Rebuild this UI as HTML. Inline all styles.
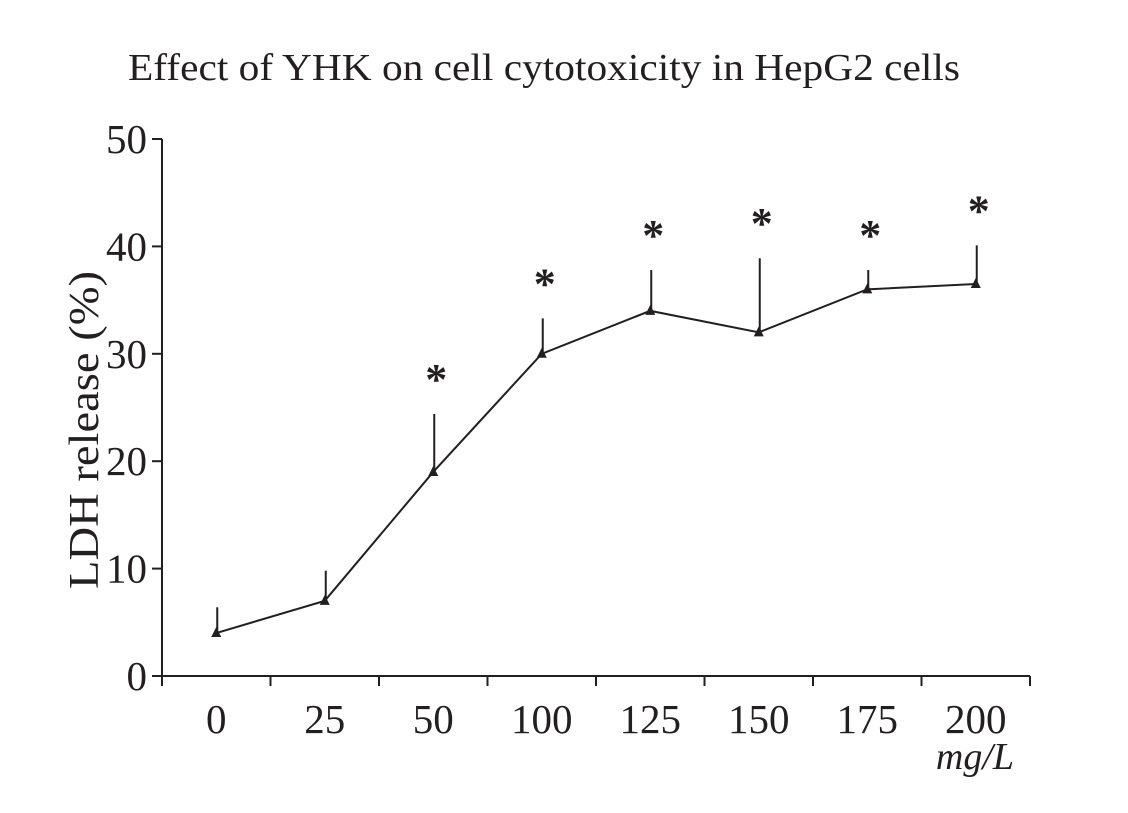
<!DOCTYPE html>
<html><head><meta charset="utf-8"><style>
body{margin:0;background:#fff;width:1128px;height:808px;overflow:hidden}
svg text{font-family:"Liberation Serif",serif;fill:#231f20}
</style></head><body>
<svg id="chart" width="1128" height="808" viewBox="0 0 1128 808">
<text x="128" y="80" font-size="38" textLength="832" lengthAdjust="spacingAndGlyphs">Effect of YHK on cell cytotoxicity in HepG2 cells</text>
<text transform="translate(98,430) rotate(-90)" font-size="42" text-anchor="middle" textLength="318" lengthAdjust="spacingAndGlyphs">LDH release (%)</text>
<text x="975" y="769" font-size="38" font-style="italic" text-anchor="middle">mg/L</text>
<g id="axes"></g>
<g id="marks"></g>
</svg>
<script>
const categories=["0","25","50","100","125","150","175","200"];
const means=[4,7,19,30,34,32,36,36.5];
const errors=[2.4,2.8,5.4,3.3,3.8,6.9,1.8,3.6];
const significant=[false,false,true,true,true,true,true,true];
const yTicks=[0,10,20,30,40,50];
const NS="http://www.w3.org/2000/svg";
const x0=162,x1=1030,y0=676,yTop=139;
const bw=(x1-x0)/categories.length;
const X=i=>x0+bw*(i+0.5);
const Y=v=>y0-(v/50)*(y0-yTop);
function mk(t,a,p){const e=document.createElementNS(NS,t);for(const k in a)e.setAttribute(k,a[k]);p.appendChild(e);return e;}
const axes=document.getElementById('axes'),marks=document.getElementById('marks');
const ya=mk('line',{x1:x0,y1:yTop,x2:x0,y2:y0,stroke:'#231f20','stroke-width':2},axes);


const xa=mk('line',{x1:x0,y1:y0,x2:x1,y2:y0,stroke:'#231f20','stroke-width':2},axes);


yTicks.forEach(v=>{
 const l=mk('line',{x1:x0-10,y1:Y(v),x2:x0,y2:Y(v),stroke:'#231f20','stroke-width':2},axes);
 
 
 const t=mk('text',{x:x0-15,y:Y(v)+14,'font-size':41,'text-anchor':'end'},axes);t.textContent=v;
 
 
});
for(let i=0;i<=categories.length;i++){
 const l=mk('line',{x1:x0+bw*i,y1:y0,x2:x0+bw*i,y2:y0+10,stroke:'#231f20','stroke-width':2},axes);
 
 
}
categories.forEach((c,i)=>{
 const t=mk('text',{x:X(i),y:733,'font-size':41,'text-anchor':'middle'},axes);t.textContent=c;
 
 
});
const line=mk('polyline',{points:means.map((v,i)=>X(i)+','+Y(v)).join(' '),fill:'none',stroke:'#231f20','stroke-width':2},marks);


means.forEach((v,i)=>{
 const e=mk('line',{x1:X(i)+1,y1:Y(v),x2:X(i)+1,y2:Y(v+errors[i]),stroke:'#231f20','stroke-width':2},marks);
 
 
 const px=X(i),py=Y(v);
 const p=mk('polygon',{points:`${px},${py-6} ${px-5},${py+4} ${px+5},${py+4}`,fill:'#231f20'},marks);
 
 
 if(significant[i]){
  const s=mk('text',{x:X(i)+3,y:Y(v+errors[i])-20,'font-size':44,'font-weight':'bold','font-family':'Liberation Sans','text-anchor':'middle'},marks);s.textContent='*';
  
  
 }
});
</script>
</body></html>
